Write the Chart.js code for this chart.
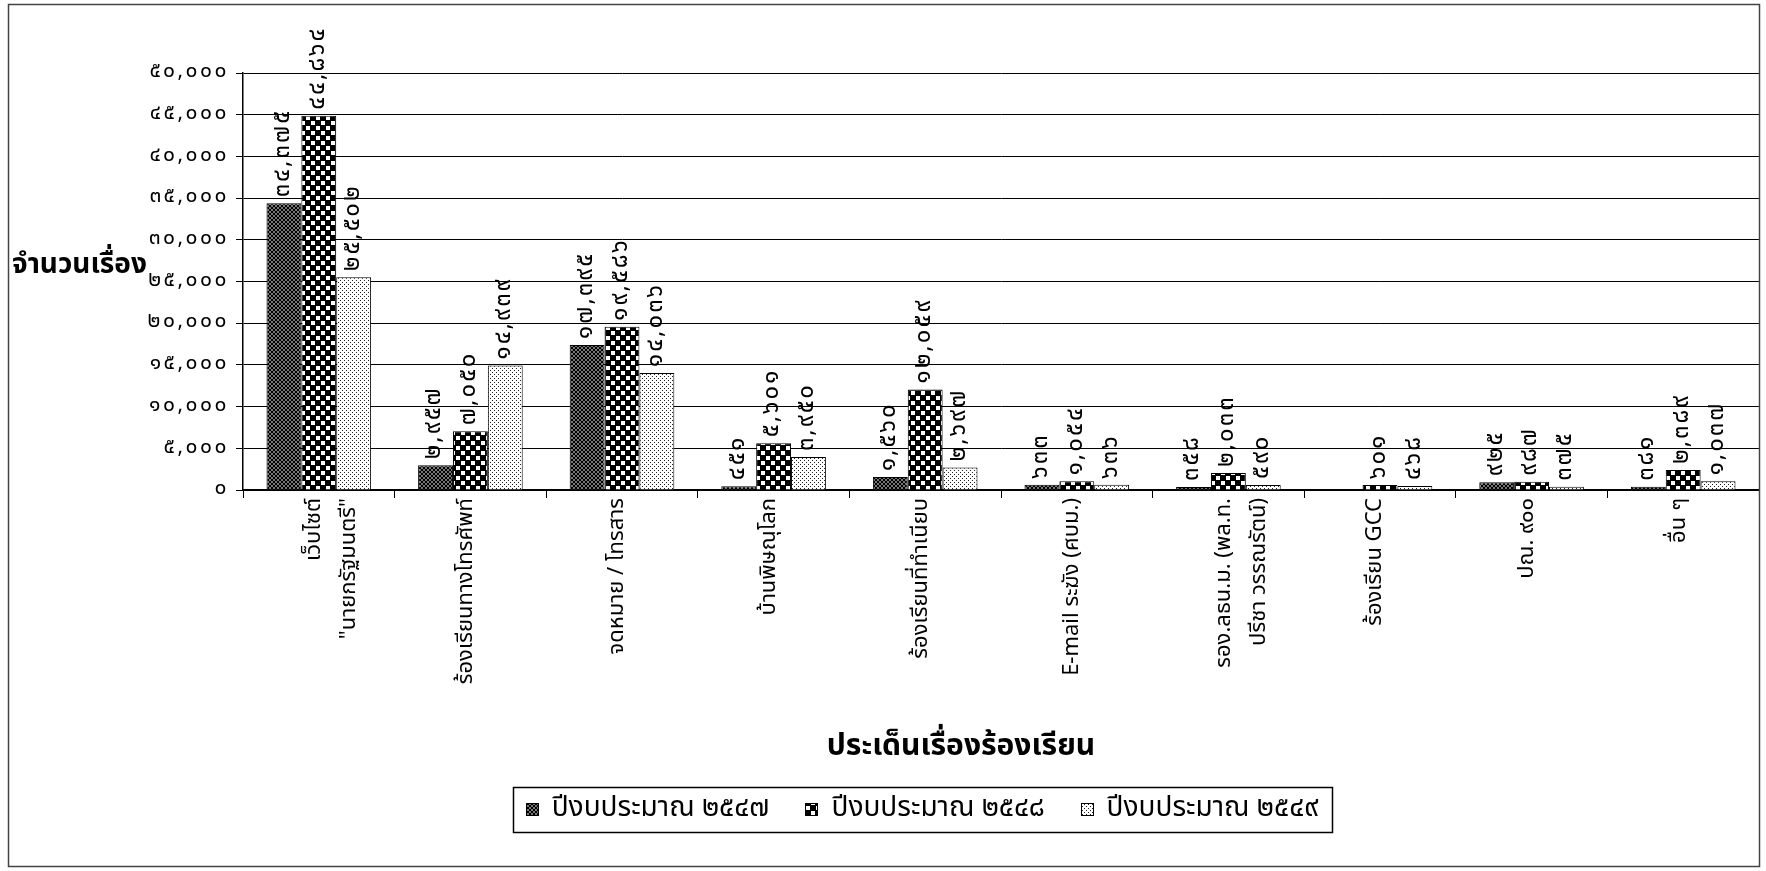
<!DOCTYPE html>
<html><head><meta charset="utf-8">
<script src="https://cdn.jsdelivr.net/npm/chart.js@4"></script>
<style>html,body{margin:0;padding:0;background:#fff;}canvas{display:block}</style>
</head><body>
<canvas id="c" width="1766" height="871"></canvas>
<script>
// ---------------- data ----------------
const categories = [
  ['เว็บไซต์', '"นายกรัฐมนตรี"'],
  'ร้องเรียนทางโทรศัพท์',
  'จดหมาย / โทรสาร',
  'บ้านพิษณุโลก',
  'ร้องเรียนที่ทำเนียบ',
  'E-mail ระฆัง (ศบม.)',
  ['รอง.ลธน.ม. (พล.ท.', 'ปรีชา วรรณรัตน์)'],
  'ร้องเรียน GCC',
  'ปณ. ๙๐๐',
  'อื่น ๆ'
];
const seriesNames = ['ปีงบประมาณ ๒๕๔๗', 'ปีงบประมาณ ๒๕๔๘', 'ปีงบประมาณ ๒๕๔๙'];
const values2547 = [34375, 2957, 17395, 451, 1560, 633, 358, null, 925, 381];
const values2548 = [44864, 7050, 19586, 5601, 12059, 1054, 2033, 601, 987, 2389];
const values2549 = [25502, 14939, 14036, 3950, 2697, 636, 590, 468, 375, 1037];
const yTickLabels = ['๐', '๕,๐๐๐', '๑๐,๐๐๐', '๑๕,๐๐๐', '๒๐,๐๐๐', '๒๕,๐๐๐',
                     '๓๐,๐๐๐', '๓๕,๐๐๐', '๔๐,๐๐๐', '๔๕,๐๐๐', '๕๐,๐๐๐'];
const yTitle = 'จำนวนเรื่อง';
const xTitle = 'ประเด็นเรื่องร้องเรียน';

// ---------------- helpers ----------------
const THAI_DIGITS = ['๐','๑','๒','๓','๔','๕','๖','๗','๘','๙'];
function thaiNum(v) {
  return v.toLocaleString('en-US').replace(/[0-9]/g, d => THAI_DIGITS[+d]);
}
const FONT = 'Tahoma, "Noto Sans Thai", "Noto Sans", "DejaVu Sans", sans-serif';

function makePattern(kind, g0) {
  const c = document.createElement('canvas');
  const g = c.getContext('2d');
  if (kind === 0) { // dark cross-hatch
    c.width = c.height = 4;
    g.fillStyle = '#777'; g.fillRect(0, 0, 4, 4);
    g.fillStyle = '#000';
    for (let i = 0; i < 4; i++) { g.fillRect(i, i, 1, 1); g.fillRect(3 - i, i, 1, 1); }
  } else if (kind === 1) { // checkerboard
    c.width = c.height = 10;
    g.fillStyle = '#000'; g.fillRect(0, 0, 10, 10);
    g.fillStyle = '#fff'; g.fillRect(1, 1, 4, 4); g.fillRect(6, 6, 4, 4);
  } else { // light dots
    c.width = c.height = 4;
    g.fillStyle = '#fff'; g.fillRect(0, 0, 4, 4);
    g.fillStyle = '#222'; g.fillRect(0, 0, 1, 1); g.fillRect(2, 2, 1, 1);
  }
  return (g0 || g).createPattern(c, 'repeat');
}

const ctx = document.getElementById('c').getContext('2d');
const seriesValues = [values2547, values2548, values2549];
const patterns = [0, 1, 2].map(k => makePattern(k, ctx));

const extrasPlugin = {
  id: 'extras',
  afterDatasetsDraw(chart) {
    const g = chart.ctx;
    g.save();
    g.fillStyle = '#000';
    g.font = '24px ' + FONT;
    g.letterSpacing = '2px';
    g.textAlign = 'left';
    g.textBaseline = 'middle';
    chart.data.datasets.forEach((ds, di) => {
      const meta = chart.getDatasetMeta(di);
      meta.data.forEach((bar, i) => {
        const v = ds.data[i];
        if (v === null || v === undefined) return;
        g.save();
        g.translate(bar.x, bar.y - 6);
        g.rotate(-Math.PI / 2);
        g.fillText(thaiNum(v), 0, 0);
        g.restore();
      });
    });
    g.restore();
    // wider digit spacing for the value-axis tick labels drawn next
    g.letterSpacing = '2.5px';
  },
  afterDraw(chart) {
    const g = chart.ctx;
    g.letterSpacing = '0px';
    g.save();
    g.fillStyle = '#000';
    g.textBaseline = 'middle';
    // y axis title (horizontal)
    g.font = 'bold 28px ' + FONT;
    g.textAlign = 'left';
    g.fillText(yTitle, 12, 267);
    // x axis title
    g.textAlign = 'center';
    g.font = 'bold 30px ' + FONT;
    g.fillText(xTitle, 961, 749);
    // legend
    g.font = '28px ' + FONT;
    g.textAlign = 'left';
    const sw = 13, gap1 = 13, gap2 = 36, pad = 13;
    const widths = seriesNames.map(n => g.measureText(n).width);
    const total = widths.reduce((a, w) => a + sw + gap1 + w, 0) + gap2 * (seriesNames.length - 1);
    let x = 922 - total / 2;
    const cy = 810;
    g.strokeStyle = '#000'; g.lineWidth = 1.5;
    g.strokeRect(Math.round(x - pad) + 0.5, 787.5, Math.round(total + 2 * pad), 45);
    seriesNames.forEach((n, i) => {
      g.fillStyle = patterns[i];
      g.fillRect(Math.round(x), cy - 7, sw, sw);
      g.lineWidth = 1; g.strokeStyle = '#000';
      g.strokeRect(Math.round(x) + 0.5, cy - 6.5, sw - 1, sw - 1);
      g.fillStyle = '#000';
      g.fillText(n, x + sw + gap1, cy);
      x += sw + gap1 + widths[i] + gap2;
    });
    // outer frame
    g.strokeStyle = '#444'; g.lineWidth = 1.5;
    g.strokeRect(8.5, 4.5, 1751, 862);
    g.restore();
  }
};

new Chart(ctx, {
  type: 'bar',
  data: {
    labels: categories,
    datasets: seriesNames.map((name, i) => ({
      label: name,
      data: seriesValues[i],
      backgroundColor: patterns[i],
      borderColor: '#000',
      borderWidth: 1,
      borderSkipped: 'bottom',
      categoryPercentage: 0.69,
      barPercentage: 1.0
    }))
  },
  options: {
    responsive: false,
    animation: false,
    devicePixelRatio: 1,
    layout: { padding: { top: 73, right: 7, bottom: 81, left: 0 } },
    plugins: {
      tooltip: { enabled: false },
      legend: { display: false }
    },
    scales: {
      x: {
        grid: { display: true, drawOnChartArea: false, drawTicks: true, tickLength: 8, color: '#000', offset: true },
        border: { display: true, color: '#000', width: 1.5 },
        ticks: {
          color: '#000', font: { family: FONT, size: 22, lineHeight: 1.6 },
          minRotation: 90, maxRotation: 90, padding: 0, autoSkip: false, labelOffset: -3
        },
        afterFit(scale) { scale.height = 300; }
      },
      y: {
        min: 0, max: 50000,
        grid: { color: '#000', lineWidth: 1, tickLength: 7, drawTicks: true },
        border: { display: true, color: '#000', width: 1.5 },
        ticks: {
          stepSize: 5000, color: '#000', padding: 7, z: 1,
          font: { family: FONT, size: 21 },
          callback: (v, i) => yTickLabels[i]
        },
        afterFit(scale) { scale.width = 243; }
      }
    }
  },
  plugins: [extrasPlugin]
});
</script>
</body></html>
